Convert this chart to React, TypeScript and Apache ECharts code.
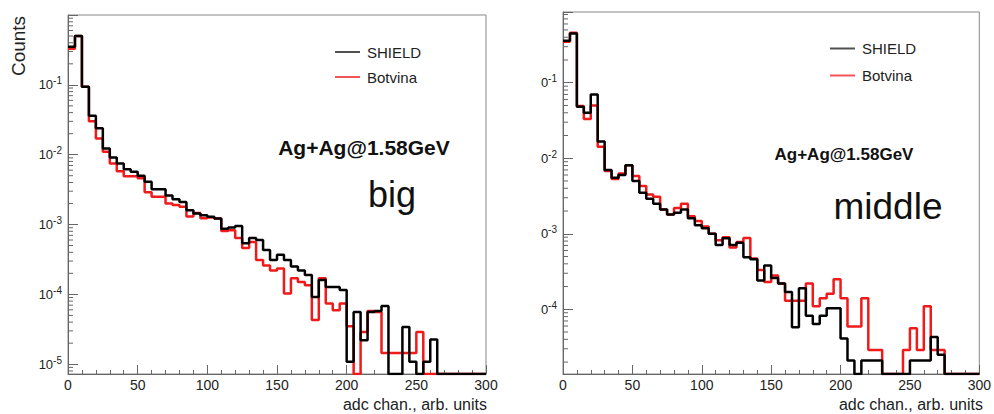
import React, { useEffect, useRef } from 'react';
import * as echarts from 'echarts';

// ---------- data ----------
const BIN_WIDTH = 5;
const X_MIN = 0;
const X_MAX = 300;
const X_TICK_STEP = 50;

const leftShield = [
  0.35, 0.5, 0.094, 0.036, 0.024, 0.0123, 0.0091, 0.0075, 0.0062, 0.0057,
  0.005, 0.0041, 0.0032, 0.0032, 0.0026, 0.0023, 0.0021, 0.0016, 0.00144, 0.00136,
  0.00129, 0.00122, 0.00087, 0.00091, 0.00095, 0.00054, 0.00064, 0.0006, 0.00043, 0.00031,
  0.00037, 0.00031, 0.00025, 0.00022, 0.00019, 0.000092, 0.00016, 0.000128, 0.000128, 0.000115,
  0.0000108, 0.000056, 0.000022, 0.000056, 0.000058, 0.000068, 0, 0, 0.000034, 0.0000108,
  0, 0.0000108, 0.0000225, 0, 0, 0, 0, 0, 0, 0,
];
const leftBotvina = [
  0.33, 0.5, 0.094, 0.03, 0.017, 0.011, 0.0075, 0.0058, 0.0049, 0.0049,
  0.0046, 0.0029, 0.0025, 0.0025, 0.002, 0.0019, 0.0018, 0.0013, 0.00146, 0.00123,
  0.00126, 0.00122, 0.00081, 0.00083, 0.00064, 0.00046, 0.00056, 0.00031, 0.00026, 0.00022,
  0.000235, 0.000103, 0.00017, 0.00015, 0.000135, 0.000043, 0.00017, 0.000074, 0.000059, 0.000074,
  0.000035, 0, 0.000029, 0.000058, 0.000056, 0.0000145, 0.0000145, 0.0000145, 0.0000145, 0.0000145,
  0.000029, 0, 0, 0, 0, 0, 0, 0, 0, 0,
];
const rightShield = [
  0.36, 0.45, 0.048, 0.04, 0.07, 0.0166, 0.007, 0.0055, 0.006, 0.0081,
  0.005, 0.0035, 0.0029, 0.0025, 0.0021, 0.0018, 0.0019, 0.0021, 0.0016, 0.0013,
  0.00118, 0.001, 0.00071, 0.00087, 0.00071, 0.00076, 0.00049, 0.00046, 0.00024, 0.00038,
  0.00026, 0.00022, 0.00017, 0.000058, 0.00019, 0.000082, 0.000064, 0.000082, 0.000103, 0.000103,
  0.000041, 0.000021, 0, 0.000021, 0.000021, 0.000021, 0, 0, 0, 0,
  0.000021, 0.000021, 0.000021, 0.000043, 0.000025, 0, 0, 0, 0, 0,
];
const rightBotvina = [
  0.35, 0.46, 0.049, 0.033, 0.05, 0.0142, 0.0068, 0.0053, 0.0063, 0.0081,
  0.0058, 0.0043, 0.0033, 0.0031, 0.0021, 0.0018, 0.0022, 0.0025, 0.0017, 0.00148,
  0.00125, 0.001, 0.00082, 0.0009, 0.00066, 0.00078, 0.00088, 0.00047, 0.00033, 0.00023,
  0.00028, 0.00022, 0.00013, 0.00013, 0.00013, 0.00022, 0.00011, 0.00014, 0.00016, 0.00025,
  0.00014, 0.000059, 0.000059, 0.00014, 0.000029, 0.000029, 0, 0, 0, 0.000029,
  0.000056, 0.000029, 0.00011, 0.000029, 0.000029, 0, 0, 0, 0, 0,
];

const seriesNames = ['SHIELD', 'Botvina'];
const panelLabels = ['big', 'middle'];
const reactionLabel = 'Ag+Ag@1.58GeV';
const xTitle = 'adc chan., arb. units';
const yTitle = 'Counts';
// visible part of the decade tick labels (mantissa) in each panel
const decadeLead = ['10', '0'];

// ---------- styling ----------
const FONT = '"Liberation Sans", Arial, Helvetica, sans-serif';
const BLACK = '#000000';
const RED = '#f01a1a';
const AXIS = '#666666';
const LABEL = '#222222';

const panels = [
  {
    grid: { left: 68, top: 15, width: 418, height: 359 },
    yMin: 7.24e-6,
    yMax: 1.0,
    shield: leftShield,
    botvina: leftBotvina,
    lead: decadeLead[0],
    legend: { left: 330, top: 39.5, itemGap: 10 },
  },
  {
    grid: { left: 563, top: 12, width: 419, height: 362 },
    yMin: 1.39e-5,
    yMax: 0.864,
    shield: rightShield,
    botvina: rightBotvina,
    lead: decadeLead[1],
    legend: { left: 825, top: 36, itemGap: 12 },
  },
];

function steps(vals: number[], floor: number) {
  const pts: number[][] = vals.map((v, i) => [X_MIN + i * BIN_WIDTH, v > 0 ? v : floor]);
  const last = vals[vals.length - 1];
  pts.push([X_MAX, last > 0 ? last : floor]);
  return pts;
}

function minorTicks(min: number, max: number) {
  const out: number[][] = [];
  for (let e = Math.floor(Math.log10(min)); e <= Math.ceil(Math.log10(max)); e++) {
    for (let m = 2; m <= 9; m++) {
      const v = m * Math.pow(10, e);
      if (v > min && v < max) out.push([0, v]);
    }
  }
  return out;
}

function buildOption() {
  const grid: any[] = [];
  const xAxis: any[] = [];
  const yAxis: any[] = [];
  const series: any[] = [];
  const legend: any[] = [];

  panels.forEach((p, idx) => {
    grid.push({
      ...p.grid,
      show: true,
      borderColor: '#888',
      borderWidth: 1,
      backgroundColor: 'transparent',
    });
    xAxis.push({
      type: 'value',
      gridIndex: idx,
      min: X_MIN,
      max: X_MAX,
      interval: X_TICK_STEP,
      axisLine: { show: true, onZero: false, lineStyle: { color: AXIS, width: 1 } },
      axisTick: { show: true, inside: true, length: 9, lineStyle: { color: AXIS } },
      minorTick: { show: true, splitNumber: 5, length: 4, lineStyle: { color: AXIS } },
      splitLine: { show: false },
      axisLabel: { fontSize: 14, lineHeight: 14, color: LABEL, margin: 4, fontFamily: FONT },
    });
    const lead = p.lead;
    yAxis.push({
      type: 'log',
      logBase: 10,
      gridIndex: idx,
      min: p.yMin,
      max: p.yMax,
      axisLine: { show: true, lineStyle: { color: AXIS, width: 1 } },
      axisTick: { show: true, inside: true, length: 10, lineStyle: { color: AXIS } },
      splitLine: { show: false },
      axisLabel: {
        margin: 6,
        formatter: (v: number) => {
          const e = Math.log10(v);
          const r = Math.round(e);
          if (Math.abs(e - r) > 1e-6 || r >= 0) return '';
          return `{b|${lead}}{s|${r}}`;
        },
        rich: {
          b: { fontSize: 13, lineHeight: 18, fontFamily: FONT, color: LABEL },
          s: { fontSize: 10, lineHeight: 10, fontFamily: FONT, color: LABEL, verticalAlign: 'top' },
        },
      },
    });
    series.push({
      name: seriesNames[1],
      type: 'line',
      xAxisIndex: idx,
      yAxisIndex: idx,
      step: 'end',
      symbol: 'none',
      data: steps(p.botvina, p.yMin),
      lineStyle: { color: RED, width: 2.5 },
      itemStyle: { color: RED },
      z: 3,
    });
    series.push({
      name: seriesNames[0],
      type: 'line',
      xAxisIndex: idx,
      yAxisIndex: idx,
      step: 'end',
      symbol: 'none',
      data: steps(p.shield, p.yMin),
      lineStyle: { color: BLACK, width: 2.5 },
      itemStyle: { color: BLACK },
      z: 4,
    });
    series.push({
      type: 'custom',
      name: 'minor',
      xAxisIndex: idx,
      yAxisIndex: idx,
      silent: true,
      clip: false,
      data: minorTicks(p.yMin, p.yMax),
      renderItem: (params: any, api: any) => {
        const pt = api.coord([api.value(0), api.value(1)]);
        return {
          type: 'line',
          shape: { x1: pt[0], y1: pt[1], x2: pt[0] + 5, y2: pt[1] },
          style: { stroke: AXIS, lineWidth: 1 },
        };
      },
      z: 2,
    });
    legend.push({
      data: [
        { name: seriesNames[0], icon: 'rect', itemStyle: { color: '#333333', opacity: 0.85 } },
        { name: seriesNames[1], icon: 'rect', itemStyle: { color: '#f25555' } },
      ],
      orient: 'vertical',
      left: p.legend.left,
      top: p.legend.top,
      itemGap: p.legend.itemGap,
      itemWidth: 25,
      itemHeight: 2,
      selectedMode: false,
      textStyle: { fontSize: 15, fontFamily: FONT, color: LABEL, padding: [0, 0, 0, 2] },
    });
  });

  const graphic: any[] = [
    {
      type: 'text', x: 18, y: 46, rotation: Math.PI / 2,
      style: { text: yTitle, fontSize: 19, fontFamily: FONT, fill: LABEL, align: 'center', verticalAlign: 'middle' },
    },
    {
      type: 'text', x: 487, y: 404.5,
      style: { text: xTitle, fontSize: 16, lineHeight: 16, fontFamily: FONT, fill: LABEL, align: 'right', verticalAlign: 'middle' },
    },
    {
      type: 'text', x: 983, y: 404.5,
      style: { text: xTitle, fontSize: 16, lineHeight: 16, fontFamily: FONT, fill: LABEL, align: 'right', verticalAlign: 'middle' },
    },
    {
      type: 'text', x: 364, y: 147,
      style: { text: reactionLabel, fontSize: 21, fontWeight: 'bold', fontFamily: FONT, fill: '#111', align: 'center', verticalAlign: 'middle' },
    },
    {
      type: 'text', x: 844, y: 154,
      style: { text: reactionLabel, fontSize: 17, fontWeight: 'bold', fontFamily: FONT, fill: '#111', align: 'center', verticalAlign: 'middle' },
    },
    {
      type: 'text', x: 392, y: 194,
      style: { text: panelLabels[0], fontSize: 36, fontFamily: FONT, fill: '#111', align: 'center', verticalAlign: 'middle' },
    },
    {
      type: 'text', x: 888, y: 206,
      style: { text: panelLabels[1], fontSize: 37, fontFamily: FONT, fill: '#111', align: 'center', verticalAlign: 'middle' },
    },
  ];

  return {
    animation: false,
    backgroundColor: '#ffffff',
    grid,
    xAxis,
    yAxis,
    series,
    legend,
    graphic,
  };
}

export default function App() {
  const ref = useRef<HTMLDivElement>(null);
  useEffect(() => {
    if (!ref.current) return;
    const chart = echarts.init(ref.current, undefined, { renderer: 'svg' });
    chart.setOption(buildOption() as any);
    return () => {
      chart.dispose();
    };
  }, []);
  return (
    <div
      ref={ref}
      style={{ position: 'absolute', left: 0, top: 0, width: 994, height: 414, background: '#fff' }}
    />
  );
}
